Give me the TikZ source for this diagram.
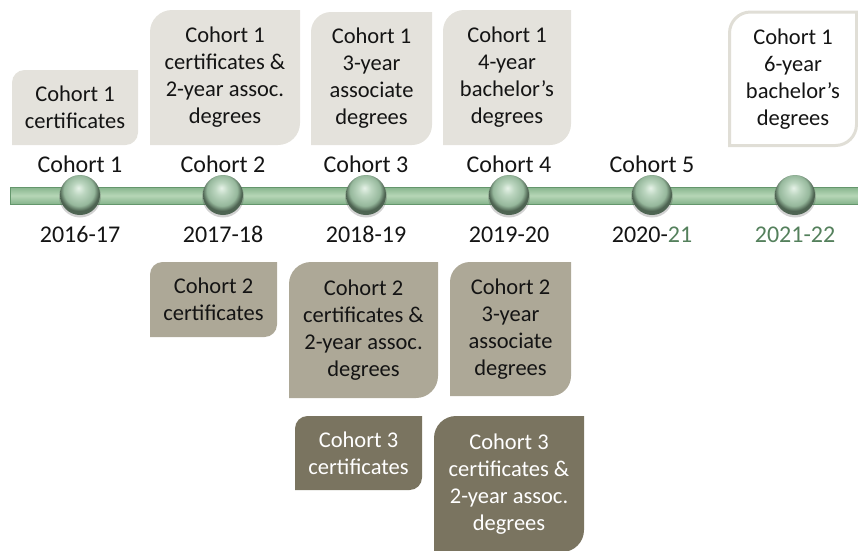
\documentclass[tikz,border=0pt]{standalone}
\usepackage{fontspec}
\setmainfont{Carlito}
\definecolor{lightbox}{RGB}{228,226,220}
\definecolor{midbox}{RGB}{173,168,151}
\definecolor{darkbox}{RGB}{122,116,96}
\definecolor{boxline}{RGB}{224,222,214}
\definecolor{yeargreen}{RGB}{84,128,92}
\definecolor{txt}{RGB}{20,20,20}
\definecolor{barmid}{RGB}{182,214,182}
\definecolor{baredge}{RGB}{134,180,140}
\definecolor{barline}{RGB}{100,150,108}
\definecolor{sphl}{RGB}{230,242,232}
\definecolor{spmid}{RGB}{188,214,192}
\definecolor{spmidb}{RGB}{150,184,156}
\definecolor{sprim}{RGB}{78,100,82}
\pgfdeclareradialshading{sphereshade}{\pgfpoint{-2bp}{9bp}}{%
  color(0bp)=(sphl); color(8bp)=(spmid); color(19bp)=(spmidb);
  color(24.5bp)=(sprim); color(25bp)=(sprim); color(50bp)=(sprim)}
\newcommand\dbox[9]{%
  \path[#7] (#2,#5) -- (#2,#3+#6) .. controls (#2,#3+0.448*#6) and (#2+0.448*#6,#3) .. (#2+#6,#3)
    -- (#4,#3) -- (#4,#5-#6) .. controls (#4,#5-0.448*#6) and (#4-0.448*#6,#5) .. (#4-#6,#5) -- cycle;
  \node[#8] (#1) at ({(#2+#4)/2},{(#3+#5)/2}) {#9};}
\tikzset{
  boxtext/.style={align=center, text=txt, inner sep=0pt,
    font=\fontsize{22.5}{27}\selectfont},
  whitetext/.style={boxtext, text=white},
  label/.style={anchor=base, text=txt, inner sep=0pt, font=\fontsize{24}{28}\selectfont},
  sphere/.style={circle, minimum size=40pt, inner sep=0pt, shading=sphereshade},
  sphereshadow/.style={circle, minimum size=42pt, inner sep=0pt, fill=black!70, opacity=0.25},
}
\begin{document}
\begin{tikzpicture}[x=1pt,y=-1pt]
\useasboundingbox (0,0) rectangle (858,550);
% top boxes
\dbox{t1}{12}{70}{138}{145}{12.5}{fill=lightbox}{boxtext}{Cohort 1\\certificates}
\dbox{t2}{150}{10}{300}{145}{22}{fill=lightbox}{boxtext}{Cohort 1\\certificates \&\\2-year assoc.\\degrees}
\dbox{t3}{311}{12}{432}{145}{20}{fill=lightbox}{boxtext}{Cohort 1\\3-year\\associate\\degrees}
\dbox{t4}{443}{10}{571}{145}{21}{fill=lightbox}{boxtext}{Cohort 1\\4-year\\bachelor’s\\degrees}
\dbox{t5}{729.5}{12}{856.5}{145.5}{21}{fill=white,draw=boxline,line width=3pt}{boxtext}{Cohort 1\\6-year\\bachelor’s\\degrees}
% bottom boxes
\dbox{b1}{150}{262}{277}{337}{12.5}{fill=midbox}{boxtext}{Cohort 2\\certificates}
\dbox{b2}{289}{262}{438}{398}{22}{fill=midbox}{boxtext}{Cohort 2\\certificates \&\\2-year assoc.\\degrees}
\dbox{b3}{450}{262}{571}{396}{20}{fill=midbox}{boxtext}{Cohort 2\\3-year\\associate\\degrees}
\dbox{b4}{295}{416}{422}{490}{12.5}{fill=darkbox}{whitetext}{Cohort 3\\certificates}
\dbox{b5}{434}{416}{584}{552}{22}{fill=darkbox}{whitetext}{Cohort 3\\certificates \&\\2-year assoc.\\degrees}
% bar
\path[draw=barline, line width=0.8pt, top color=baredge, bottom color=baredge, middle color=barmid]
  (10,187) rectangle (860,204);
% spheres
\foreach \i/\x in {1/80,2/223,3/366,4/509,5/652,6/795}{
  \node[sphereshadow] (sh\i) at (\x,196.5) {};
  \node[sphere] (s\i) at (\x,195) {};
}
% cohort labels
\node[label] (c1) at (80,172) {Cohort 1};
\node[label] (c2) at (223,172) {Cohort 2};
\node[label] (c3) at (366,172) {Cohort 3};
\node[label] (c4) at (509,172) {Cohort 4};
\node[label] (c5) at (652,172) {Cohort 5};
% years
\node[label] (y1) at (80,242) {2016-17};
\node[label] (y2) at (223,242) {2017-18};
\node[label] (y3) at (366,242) {2018-19};
\node[label] (y4) at (509,242) {2019-20};
\node[label] (y5) at (652,242) {2020-\textcolor{yeargreen}{21}};
\node[label, text=yeargreen] (y6) at (795,242) {2021-22};
\end{tikzpicture}
\end{document}
